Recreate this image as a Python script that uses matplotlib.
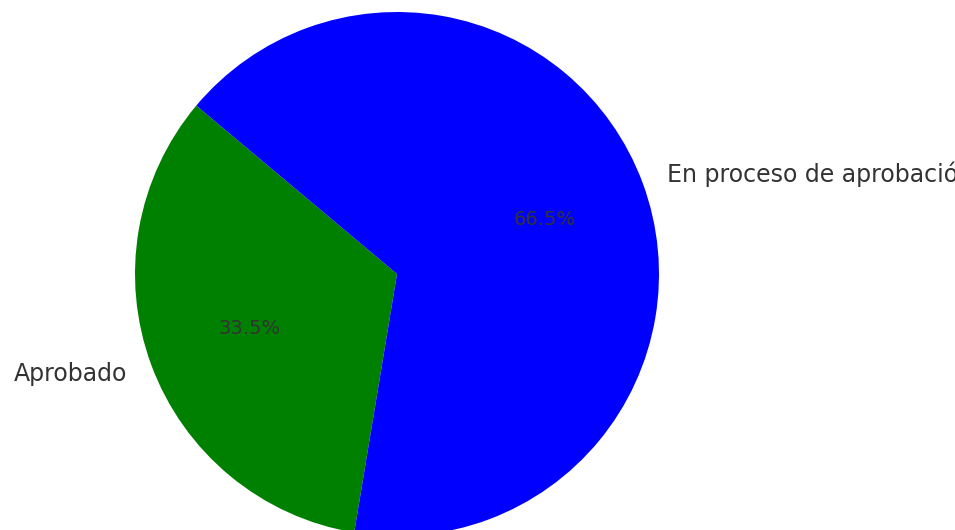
import matplotlib.pyplot as plt

labels = ['Aprobado', 'En proceso de aprobación']
values = [33.5, 66.5]
colors = ['green', 'blue']

W, H = 955, 530
cx, cy, r = 397, 274, 262  # pie centre and radius in pixels

fig = plt.figure(figsize=(W / 100, H / 100), dpi=100)
ax = fig.add_axes([0, 0, 1, 1])

wedges, texts, autotexts = ax.pie(values, labels=labels, colors=colors,
                                  autopct='%1.1f%%', startangle=140,
                                  textprops={'color': '#333333'})
for t in texts:
    t.set_fontsize(17)
for t in autotexts:
    t.set_fontsize(14)

ax.set_xlim(-cx / r, (W - cx) / r)
ax.set_ylim(-(H - cy) / r, cy / r)
ax.set_aspect('auto')
ax.axis('off')

fig.savefig('out.png', dpi=100)
